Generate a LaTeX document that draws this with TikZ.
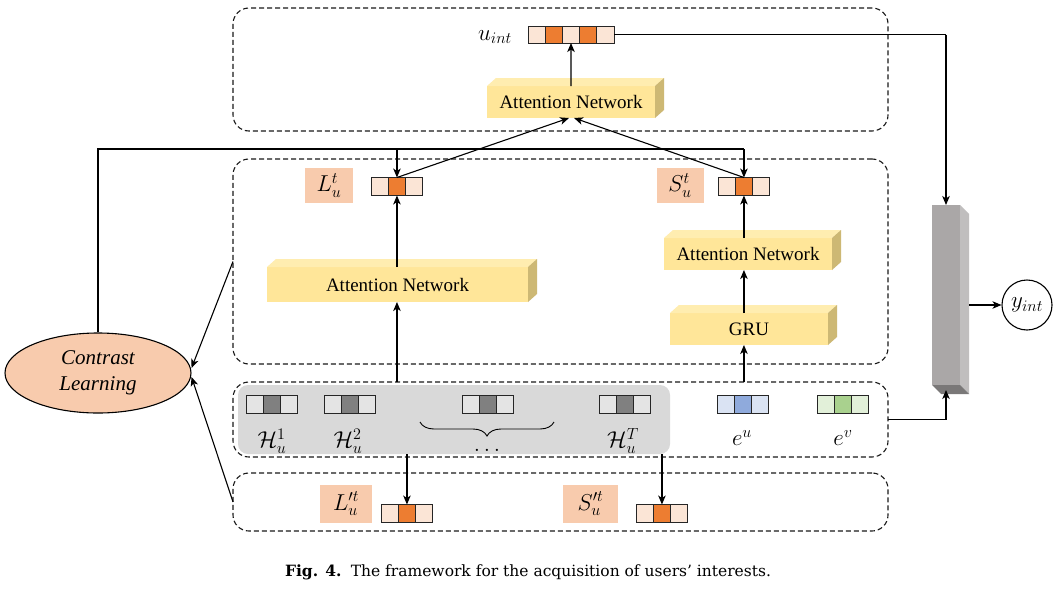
\RequirePackage{fix-cm}
\documentclass[tikz,border=0pt]{standalone}
\usepackage{fontspec}
\setmainfont{Liberation Serif}
\newfontfamily\capfont{DejaVu Serif}
\usetikzlibrary{arrows.meta,calc,decorations.pathreplacing,shapes.geometric}

\definecolor{pk}{HTML}{FBE5D6}
\definecolor{og}{HTML}{ED7D31}
\definecolor{lb}{HTML}{F8CBAD}
\definecolor{hl}{HTML}{E4E4E4}
\definecolor{hd}{HTML}{808080}
\definecolor{bgg}{HTML}{D9D9D9}
\definecolor{bll}{HTML}{DAE3F3}
\definecolor{bld}{HTML}{8FAADC}
\definecolor{grl}{HTML}{E2F0D9}
\definecolor{grd}{HTML}{A9D18E}
\definecolor{yf}{HTML}{FFE699}
\definecolor{yt}{HTML}{FFEDB0}
\definecolor{ys}{HTML}{CDB874}
\definecolor{gbf}{HTML}{AAA7A7}
\definecolor{gbs}{HTML}{C0BEBE}
\definecolor{gbb}{HTML}{7A7878}

\tikzset{
 dbox/.style={draw=black!90, dash pattern=on 5pt off 3pt, rounded corners=16pt, line width=1.1pt, inner sep=0pt, outer sep=0pt},
 cellst/.style={draw=black!85, line width=0.9pt, inner sep=0pt, outer sep=0pt, anchor=west},
 lblbox/.style={fill=lb, inner sep=0pt, font=\fontsize{23}{27}\selectfont},
 mathlbl/.style={inner sep=0pt, font=\fontsize{23}{27}\selectfont},
 cube/.style={fill=yf, inner sep=0pt, outer sep=0pt, font=\fontsize{19}{22}\selectfont},
 arr/.style={-{Stealth[length=9pt,width=7.5pt,inset=2.5pt]}, line width=1.1pt},
 ln/.style={line width=1.1pt},
}

\newcommand\cellrow[6]{%
 \foreach \cc [count=\ii] in {#6} {
   \node[cellst, minimum width=#4pt, minimum height=#5pt, fill=\cc] (#1\ii) at ({#2+(\ii-1)*#4}, #3) {};
 }}
\newcommand\ycube[1]{%
 \fill[yt] (#1.north west) -- ++(9,-8) -- ($(#1.north east)+(9,-8)$) -- (#1.north east) -- cycle;
 \fill[ys] (#1.north east) -- ++(9,-8) -- ($(#1.south east)+(9,-8)$) -- (#1.south east) -- cycle;}

\begin{document}
\begin{tikzpicture}[x=1pt,y=-1pt]
\fill[white] (0,0) rectangle (1064,589);
\useasboundingbox (0,0) rectangle (1064,589);

% group background
\node[fill=bgg, rounded corners=10pt, minimum width=432pt, minimum height=69pt, inner sep=0pt] (hgrp) at (454,419.5) {};

% dashed boxes
\node[dbox, minimum width=655pt, minimum height=123pt] (topbox) at (560.5,69.5) {};
\node[dbox, minimum width=655pt, minimum height=205pt] (midbox) at (560.5,261.5) {};
\node[dbox, minimum width=655pt, minimum height=75pt] (inbox) at (560.5,419.5) {};
\node[dbox, minimum width=655pt, minimum height=58pt] (lowbox) at (560.5,502) {};

% cubes
\node[cube, minimum width=168pt, minimum height=32pt] (tattn) at (571,102) {Attention Network};
\ycube{tattn}
\node[cube, minimum width=261pt, minimum height=35pt] (lattn) at (397.5,284.5) {Attention Network};
\ycube{lattn}
\node[cube, minimum width=168pt, minimum height=32pt] (rattn) at (748,254) {Attention Network};
\ycube{rattn}
\node[cube, minimum width=158pt, minimum height=32pt] (gru) at (749,329) {GRU};
\ycube{gru}

% vectors
\cellrow{U}{528}{34.5}{17.2}{17}{pk,og,pk,og,pk}
\cellrow{L}{371}{186.5}{17.3}{18}{pk,og,pk}
\cellrow{S}{718}{186.5}{17.3}{18}{pk,og,pk}
\cellrow{Ha}{246}{404.5}{17.3}{18}{hl,hd,hl}
\cellrow{Hb}{324}{404.5}{17.3}{18}{hl,hd,hl}
\cellrow{Hc}{462}{404.5}{17.3}{18}{hl,hd,hl}
\cellrow{Hd}{599}{404.5}{17.3}{18}{hl,hd,hl}
\cellrow{Eu}{717}{404.5}{17.3}{18}{bll,bld,bll}
\cellrow{Ev}{817}{404.5}{17.3}{18}{grl,grd,grl}
\cellrow{Lp}{381}{513.5}{17.3}{18}{pk,og,pk}
\cellrow{Sp}{636}{513.5}{17.3}{18}{pk,og,pk}

% labels
\node[mathlbl] (ulbl) at (495,37) {$u_{int}$};
\node[lblbox, minimum width=48pt, minimum height=35pt] (Llbl) at (329,185.5) {$L_u^t$};
\node[lblbox, minimum width=47pt, minimum height=35pt] (Slbl) at (680,185.5) {$S_u^t$};
\node[lblbox, minimum width=52pt, minimum height=38pt] (Lplbl) at (346,504) {$L'^{t}_{u}$};
\node[lblbox, minimum width=55pt, minimum height=38pt] (Splbl) at (590.5,504) {$S'^{t}_{u}$};
\node[mathlbl] (h1l) at (272,441) {$\mathcal{H}_u^1$};
\node[mathlbl] (h2l) at (348,441) {$\mathcal{H}_u^2$};
\node[mathlbl] (hTl) at (623,441) {$\mathcal{H}_u^T$};
\node[mathlbl, anchor=base] (dotl) at (487,451) {$\ldots$};
\node[mathlbl] (eul) at (742,438) {$e^u$};
\node[mathlbl] (evl) at (843,438) {$e^v$};
\draw[decorate, decoration={brace, amplitude=14pt, aspect=0.5, mirror}, line width=0.9pt] (420,422) -- (554,422);

% bar and output
\node[fill=gbf, minimum width=28pt, minimum height=180pt, inner sep=0pt, outer sep=0pt] (bar) at (946,295) {};
\fill[gbs] (bar.north east) -- ++(9,9) -- ($(bar.south east)+(9,9)$) -- (bar.south east) -- cycle;
\fill[gbb] (bar.south west) -- (bar.south east) -- ++(9,9) -- ($(bar.south west)+(9,9)$) -- cycle;
\node[circle, draw, minimum size=50pt, inner sep=0pt, line width=1.1pt, font=\fontsize{23}{27}\selectfont] (yint) at (1027,305) {$y_{int}$};

% contrast learning
\node[ellipse, draw, fill=lb, minimum width=186pt, minimum height=80pt, inner sep=0pt, line width=1.1pt, font=\itshape\fontsize{21}{26}\selectfont, align=center] (cl) at (98,373) {Contrast\\Learning};

% connectors
\coordinate (yl) at (0,149);
\draw[arr] (tattn.north) -- (U3.south);
\draw[arr] (L2.north) -- ($(tattn.south)+(-2,0)$);
\draw[arr] (S2.north) -- ($(tattn.south)+(3,0)$);
\draw[arr] (L2.south |- lattn.north) -- (L2.south);
\draw[arr] (L2.south |- inbox.north) -- (L2.south |- lattn.south);
\draw[arr] (S2.south |- rattn.north) -- (S2.south);
\draw[arr] (S2.south |- gru.north) -- (S2.south |- rattn.south);
\draw[arr] (S2.south |- inbox.north) -- (S2.south |- gru.south);
\draw[arr] (Lp2.north |- hgrp.south) -- (Lp2.north);
\draw[arr] (Sp2.north |- hgrp.south) -- (Sp2.north);
\draw[ln] (cl.north) -- (cl.north |- yl) -- (S2.north |- yl);
\draw[arr] (S2.north |- yl) -- (S2.north);
\draw[arr] (L2.north |- yl) -- (L2.north);
\draw[arr] (midbox.west) -- ($(cl.east)+(0,-5)$);
\draw[arr] (lowbox.west) -- ($(cl.east)+(0,4)$);
\draw[ln] (U5.east) -- (U5.east -| bar.north);
\draw[arr] (U5.east -| bar.north) -- (bar.north);
\draw[ln] (inbox.east) -- (inbox.east -| bar.south);
\draw[arr] (inbox.east -| bar.south) -- ($(bar.south)+(0,5)$);
\draw[arr] ($(bar.east)+(9,10)$) -- (yint.west);

% caption
\node[inner sep=0pt, font=\capfont\fontsize{15.5}{19}\selectfont] (cap) at (528,572) {\textbf{Fig. 4.}\hspace{0.6em}The framework for the acquisition of users’ interests.};
\end{tikzpicture}
\end{document}
